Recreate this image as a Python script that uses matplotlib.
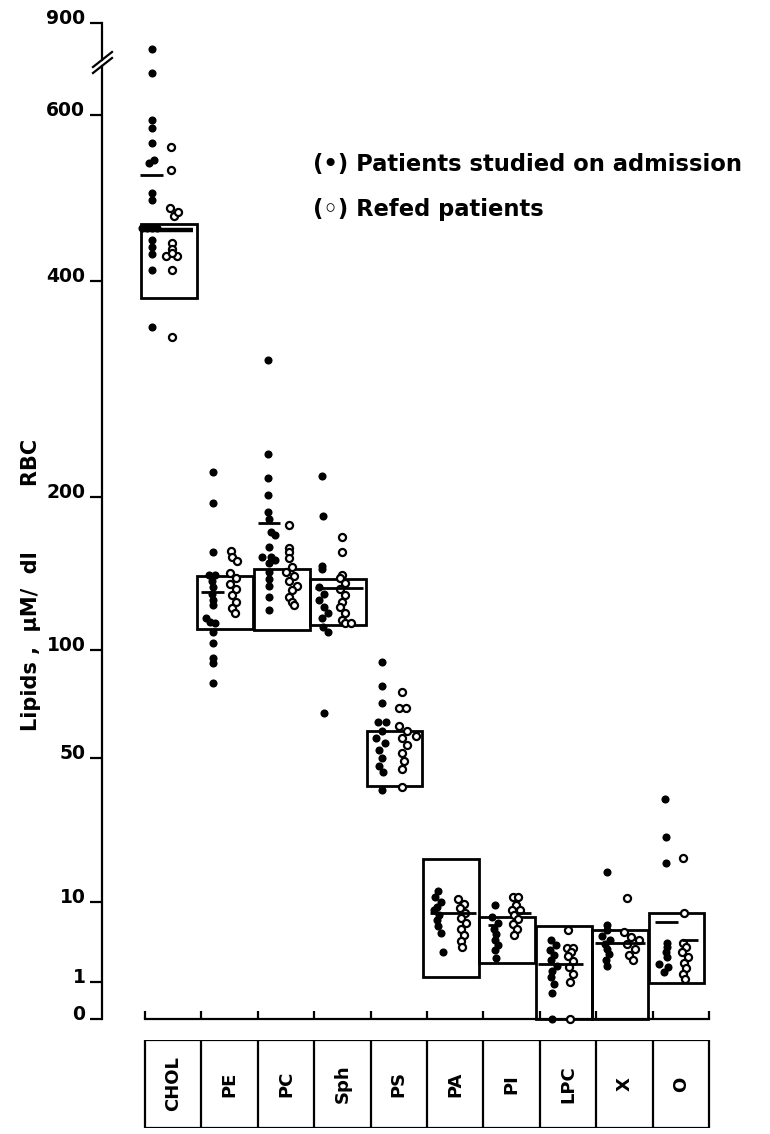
import numpy as np
import matplotlib
matplotlib.use("Agg")
import matplotlib.pyplot as plt
from matplotlib.patches import Rectangle
from matplotlib.transforms import ScaledTranslation

# ---------------- data ----------------
categories = ["CHOL", "PE", "PC", "Sph", "PS", "PA", "PI", "LPC", "X", "O"]

# normal range (box) per lipid, µM/dl RBC
box_low = [382, 112, 111, 114, 40, 1.3, 2.3, 0, 0, 0.95]
box_high = [464, 144, 149, 142, 61, 18.8, 7.6, 6.4, 5.8, 8.3]

# (value, horizontal offset within the column)
chol_adm = [(782, -0.38), (674, -0.38), (594, -0.38), (583, -0.38), (564, -0.38),
            (538, -0.43), (542, -0.34), (501, -0.38), (493, -0.38), (460, -0.55),
            (460, -0.46), (460, -0.37), (460, -0.28), (446, -0.38), (438, -0.38),
            (430, -0.38), (412, -0.38), (352, -0.38)]
chol_ref = [(559, -0.04), (530, -0.04), (483, -0.06), (474, 0.02), (479, 0.09),
            (442, -0.02), (436, -0.02), (428, -0.12), (428, 0.07), (431, -0.02),
            (412, -0.02), (342, -0.02)]

pe_adm = [(220, -0.3), (196, -0.29), (160, -0.3), (145, -0.36), (145, -0.26),
          (141, -0.31), (137, -0.29), (133, -0.31), (129, -0.3), (126, -0.3),
          (118, -0.41), (116, -0.34), (115, -0.26), (110, -0.3), (104, -0.3),
          (96, -0.3), (93, -0.3), (83, -0.3)]
pe_ref = [(161, 0.03), (157, 0.05), (154, 0.13), (146, 0.0), (143, 0.12), (139, 0.0),
          (136, 0.12), (132, 0.05), (128, 0.12), (124, 0.05), (121, 0.1)]

pc_adm = [(319, -0.32), (235, -0.32), (215, -0.32), (202, -0.32), (189, -0.32),
          (184, -0.3), (174, -0.27), (172, -0.2), (164, -0.3), (157, -0.42),
          (157, -0.27), (155, -0.2), (153, -0.3), (147, -0.3), (142, -0.3),
          (138, -0.3), (131, -0.31), (123, -0.3)]
pc_ref = [(179, 0.05), (163, 0.05), (160, 0.05), (156, 0.05), (150, 0.1), (147, 0.0),
          (144, 0.15), (141, 0.05), (138, 0.2), (135, 0.1), (131, 0.05), (128, 0.1),
          (126, 0.15)]

sph_adm = [(217, -0.36), (186, -0.35), (151, -0.36), (149, -0.36), (137, -0.42),
           (133, -0.32), (129, -0.42), (125, -0.33), (121, -0.26), (118, -0.36),
           (113, -0.34), (110, -0.25), (69, -0.33)]
sph_ref = [(171, 0.0), (160, 0.0), (145, 0.0), (143, -0.05), (140, 0.05), (136, -0.05),
           (132, 0.05), (128, 0.0), (125, -0.05), (121, 0.05), (117, 0.0), (115, 0.05),
           (115, 0.15)]

ps_adm = [(93.7, -0.3), (81.5, -0.3), (73.4, -0.3), (64.8, -0.36), (64.8, -0.23),
          (61, -0.3), (58, -0.4), (56, -0.25), (53, -0.35), (50, -0.3), (47, -0.35),
          (45, -0.28), (38.5, -0.3)]
ps_ref = [(78.6, 0.06), (71.1, 0.0), (71.1, 0.12), (63, 0.0), (61, 0.15), (59, 0.3),
          (58, 0.05), (55, 0.15), (52, 0.05), (49, 0.1), (46, 0.05), (39.5, 0.06)]

pa_adm = [(12, -0.3), (11, -0.35), (10, -0.25), (9.3, -0.32), (8.7, -0.38), (8, -0.28),
          (7.2, -0.33), (6.3, -0.3), (5.4, -0.25), (3.3, -0.22)]
pa_ref = [(10.6, 0.05), (9.8, 0.15), (9, 0.08), (8.2, 0.18), (7.5, 0.1), (6.8, 0.2),
          (6, 0.1), (5.2, 0.15), (4.5, 0.1), (3.8, 0.12)]

pi_adm = [(9.5, -0.29), (7.6, -0.35), (6.8, -0.25), (6.0, -0.32), (5.3, -0.27),
          (4.6, -0.3), (4.0, -0.25), (3.5, -0.3), (2.7, -0.27)]
pi_ref = [(11.0, 0.02), (11.0, 0.12), (9.6, 0.07), (8.7, 0.0), (8.7, 0.15), (8.0, 0.05),
          (7.3, 0.12), (6.6, 0.03), (5.9, 0.1), (5.2, 0.05)]

lpc_adm = [(4.6, -0.3), (4.0, -0.22), (3.5, -0.32), (3.0, -0.25), (2.6, -0.3),
           (2.1, -0.2), (1.7, -0.28), (1.3, -0.3), (0.9, -0.25), (0.5, -0.28), (0, -0.28)]
lpc_ref = [(5.8, 0.0), (3.7, -0.02), (3.7, 0.08), (3.3, 0.05), (2.9, 0.0), (2.5, 0.08),
           (2.0, 0.02), (1.5, 0.08), (1.0, 0.03), (0, 0.03)]

x_adm = [(15.9, -0.31), (6.5, -0.31), (5.8, -0.3), (5.1, -0.4), (4.6, -0.25),
         (4.1, -0.35), (3.6, -0.3), (3.1, -0.28), (2.6, -0.33), (2.1, -0.3)]
x_ref = [(10.8, 0.05), (5.6, 0.0), (5.0, 0.12), (4.6, 0.25), (4.1, 0.05), (3.6, 0.18),
         (3.0, 0.08), (2.6, 0.15)]

o_adm = [(35.6, -0.28), (24.3, -0.27), (17.9, -0.26), (4.3, -0.25), (3.8, -0.25),
         (3.3, -0.27), (2.8, -0.25), (2.2, -0.38), (2.0, -0.22), (1.6, -0.3)]
o_ref = [(19, 0.04), (8.3, 0.05), (4.3, 0.04), (3.8, 0.1), (3.3, 0.02), (2.8, 0.12),
         (2.3, 0.05), (1.9, 0.1), (1.5, 0.04), (1.2, 0.08)]

admission = [chol_adm, pe_adm, pc_adm, sph_adm, ps_adm, pa_adm, pi_adm, lpc_adm, x_adm, o_adm]
refed = [chol_ref, pe_ref, pc_ref, sph_ref, ps_ref, pa_ref, pi_ref, lpc_ref, x_ref, o_ref]

# group means: (category index, value, x start, x end)
mean_marks = [(0, 523, -0.59, -0.18), (1, 134, -0.5, -0.1), (2, 181, -0.5, -0.1),
              (3, 136.5, -0.49, 0.36), (5, 8.3, -0.44, 0.36), (6, 8.3, 0.07, 0.34),
              (6, 6.5, -0.41, -0.2), (7, 2.2, -0.54, 0.26), (8, 4.2, -0.52, 0.36),
              (9, 6.9, -0.46, -0.05), (9, 4.6, 0.02, 0.30)]
chol_refed_mean = 458

yticks = [0, 1, 10, 50, 100, 200, 400, 600, 900]

# ---------------- square-root scale with a compressed top ----------------
BREAK = 650.0
TOP = 900.0
K = (27.0 - np.sqrt(BREAK)) / (TOP - BREAK)


def fwd(v):
    v = np.clip(np.asarray(v, dtype=float), 0, None)
    return np.where(v <= BREAK, np.sqrt(v), np.sqrt(BREAK) + (v - BREAK) * K)


def inv(u):
    u = np.clip(np.asarray(u, dtype=float), 0, None)
    return np.where(u <= np.sqrt(BREAK), u ** 2, BREAK + (u - np.sqrt(BREAK)) / K)


W, H = 770, 1134
fig = plt.figure(figsize=(W / 100, H / 100), dpi=100)
ax_l, ax_r, ax_t, ax_b = 102, 712, 23, 1019
ax = fig.add_axes([ax_l / W, 1 - ax_b / H, (ax_r - ax_l) / W, (ax_b - ax_t) / H])
ax.set_yscale("function", functions=(fwd, inv))
ax.set_ylim(0, TOP)
px_per_cat = 56.4
x0 = -0.5 - (145 - ax_l) / px_per_cat
x1 = x0 + (ax_r - ax_l) / px_per_cat
ax.set_xlim(x0, x1)
for s in ax.spines.values():
    s.set_visible(False)

LW = 1.6
# y axis line with a break near the top
ytr = ax.get_yaxis_transform()
ax.plot([0, 0], [0, 705], color="black", lw=LW, transform=ytr, clip_on=False)
ax.plot([0, 0], [735, TOP], color="black", lw=LW, transform=ytr, clip_on=False)
axw, axh = ax_r - ax_l, ax_b - ax_t
for y_lo in (1019 - 73, 1019 - 67):
    ax.plot([-9 / axw, 10 / axw], [y_lo / axh, (y_lo + 15) / axh], color="black",
            lw=LW, transform=ax.transAxes, clip_on=False)

ax.set_yticks(yticks)
ax.set_yticklabels([str(t) for t in yticks])
ax.yaxis.set_minor_locator(matplotlib.ticker.NullLocator())
ax.tick_params(axis="y", direction="out", length=9, width=LW, pad=3,
               labelsize=13.5)
for lab in ax.get_yticklabels():
    lab.set_fontweight("bold")
    lab.set_transform(lab.get_transform() + ScaledTranslation(0, 0.07, fig.dpi_scale_trans))
ax.set_xticks([])

# category baseline with upward ticks
bounds = np.arange(len(categories) + 1) - 0.5
xtr = ax.get_xaxis_transform()
ax.plot([bounds[0], bounds[-1]], [0, 0], color="black", lw=LW, transform=xtr, clip_on=False)
ax.vlines(bounds, 0, 8 / axh, color="black", lw=LW, transform=xtr, clip_on=False)

# normal-range boxes
for i, (lo, hi) in enumerate(zip(box_low, box_high)):
    ax.add_patch(Rectangle((i - 0.57, lo), 0.99, hi - lo, fill=False, ec="black",
                           lw=2.0, zorder=2, clip_on=False))

# individual patients
for i, (adm, ref) in enumerate(zip(admission, refed)):
    av = [p[0] for p in adm]
    ax_ = [i + p[1] for p in adm]
    ax.scatter(ax_, av, s=34, color="black", zorder=3, clip_on=False, linewidths=0)
    rv = [p[0] for p in ref]
    rx = [i + p[1] for p in ref]
    ax.scatter(rx, rv, s=26, facecolor="white", edgecolor="black", linewidths=1.6,
               zorder=4, clip_on=False)

# group means
for i, v, a, b in mean_marks:
    ax.plot([i + a, i + b], [v, v], color="black", lw=2.0, zorder=5, solid_capstyle="butt")
ax.plot([-0.55, 0.35], [chol_refed_mean, chol_refed_mean], color="black", lw=3.2, zorder=5,
        solid_capstyle="butt")

# legend text
fig.text(313 / W, 1 - 165 / H, "(•) Patients studied on admission", fontsize=16.3,
         fontweight="bold", ha="left", va="center")
fig.text(313 / W, 1 - 210 / H, "(◦) Refed patients", fontsize=16.3,
         fontweight="bold", ha="left", va="center")

# y label
fig.text(31 / W, 1 - 585 / H, "Lipids ,  μM/  dl         RBC", rotation=90, fontsize=15,
         fontweight="bold", ha="center", va="center")

# category table
tb_t, tb_b = 1040, 1128
tax = fig.add_axes([ax_l / W, 1 - tb_b / H, (ax_r - ax_l) / W, (tb_b - tb_t) / H])
tax.set_xlim(x0, x1)
tax.set_ylim(0, 1)
tax.axis("off")
tax.add_patch(Rectangle((bounds[0], 0), bounds[-1] - bounds[0], 1, fill=False,
                        ec="black", lw=LW))
tax.vlines(bounds[1:-1], 0, 1, color="black", lw=LW)
for i, c in enumerate(categories):
    tax.text(i, 0.5, c, rotation=90, ha="center", va="center", fontsize=13,
             fontweight="bold")

fig.savefig("out.png", dpi=100)
